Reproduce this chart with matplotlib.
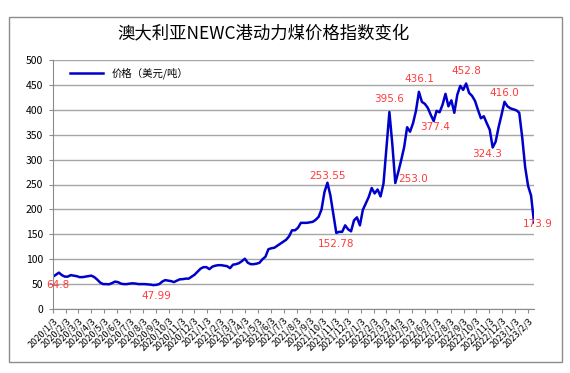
import numpy as np
import pandas as pd
import matplotlib
matplotlib.use("Agg")
import matplotlib.pyplot as plt
from matplotlib.patches import Rectangle

plt.rcParams['font.family'] = ['Noto Sans CJK SC', 'DejaVu Sans']

# 周度价格（美元/吨），自 2020-01-03 起每周五
prices = [
    64.8, 69, 73, 68, 65, 65, 68, 67, 66, 64,
    64, 65, 66, 67, 64, 59, 53, 50, 50, 49.6,
    52, 55, 54, 51, 50, 50, 51, 51.6, 51, 50,
    50, 50, 49.6, 49, 47.99, 48.5, 50, 55, 58, 57,
    56, 54, 57, 59.6, 60, 61, 61, 65, 69, 75,
    81, 84, 84, 80, 85, 87, 88, 88, 87, 86,
    82, 89, 90, 92, 96, 101, 93, 90, 90, 91,
    93, 100, 105, 120, 122, 123, 127, 131, 135, 139,
    146, 158, 158, 163, 173, 173, 173, 174, 175, 179,
    185, 200, 235, 253.55, 228, 190, 152.78, 155, 155, 168,
    160, 156, 178, 184, 168, 199, 212, 225, 243, 232,
    240, 226, 252, 325, 395.6, 330, 253.0, 275, 299, 325,
    365, 356, 373, 398, 436.1, 416, 412, 404, 390, 377.4,
    398, 395, 410, 432, 407, 419, 394, 430, 448, 440,
    452.8, 434, 428, 418, 400, 383, 387, 373, 360, 324.3,
    336, 365, 390, 416.0, 407, 403, 401, 399, 394, 345,
    285, 247, 228, 173.9,
]
dates = pd.date_range("2020-01-03", periods=len(prices), freq="7D")

# 标注点（周序号）及文字
ann_index = [0, 34, 93, 96, 114, 116, 124, 129, 140, 149, 153, 163]
ann_labels = ["64.8", "47.99", "253.55", "152.78", "395.6", "253.0",
              "436.1", "377.4", "452.8", "324.3", "416.0", "173.9"]
# 标注偏移（点）
ann_offsets = [(3.5, -6), (2, -8), (0, 5), (0, -8), (0, 9), (13, 3),
               (0, 9), (1, -4.5), (0, 9), (-4, -5), (0, 6.5), (3, -1)]

tick_dates = pd.date_range("2020-01-01", "2023-02-03", freq="MS") + pd.Timedelta(days=2)
tick_labels = [f"{d.year}/{d.month}/{d.day}" for d in tick_dates]

fig = plt.figure(figsize=(5.7, 3.73), dpi=100)
fig.patches.append(Rectangle((9 / 570, 1 - 362 / 373), 553 / 570, 345 / 373,
                             transform=fig.transFigure, fill=False,
                             edgecolor='#8c8c8c', lw=1))

ax = fig.add_axes([53 / 570, 1 - 309 / 373, 481 / 570, 249 / 373])
ax.plot(dates, prices, color='#0000cc', lw=1.8, label='价格（美元/吨）')

ax.set_ylim(0, 500)
ax.set_yticks(np.arange(0, 501, 50))
ax.set_xlim(dates[0], dates[-1])
ax.set_xticks(tick_dates)
ax.set_xticklabels(tick_labels, rotation=45, ha='right', rotation_mode='anchor', fontsize=6.5)
ax.tick_params(axis='y', labelsize=7.5, length=3, color='#8c8c8c', pad=4)
ax.tick_params(axis='x', length=3, color='#8c8c8c', pad=2)
ax.grid(axis='y', color='#a6a6a6', lw=1)
ax.set_axisbelow(True)
for s in ['top', 'right']:
    ax.spines[s].set_visible(False)
for s in ['left', 'bottom']:
    ax.spines[s].set_color('#8c8c8c')

for i, lab, off in zip(ann_index, ann_labels, ann_offsets):
    ax.annotate(lab, (dates[i], prices[i]), xytext=off, textcoords='offset points',
                ha='center', va='center', color='#ff3b3b', fontsize=7.5,
                family=['DejaVu Sans'])

ax.legend(loc='upper left', frameon=False, fontsize=7.5, handlelength=3.2,
          bbox_to_anchor=(0.02, 1.0), borderaxespad=0.3)

fig.text(0.462, 1 - 33 / 373, '澳大利亚NEWC港动力煤价格指数变化', ha='center', va='center',
         fontsize=12.5, fontweight='medium')

fig.savefig('out.png', dpi=100)
